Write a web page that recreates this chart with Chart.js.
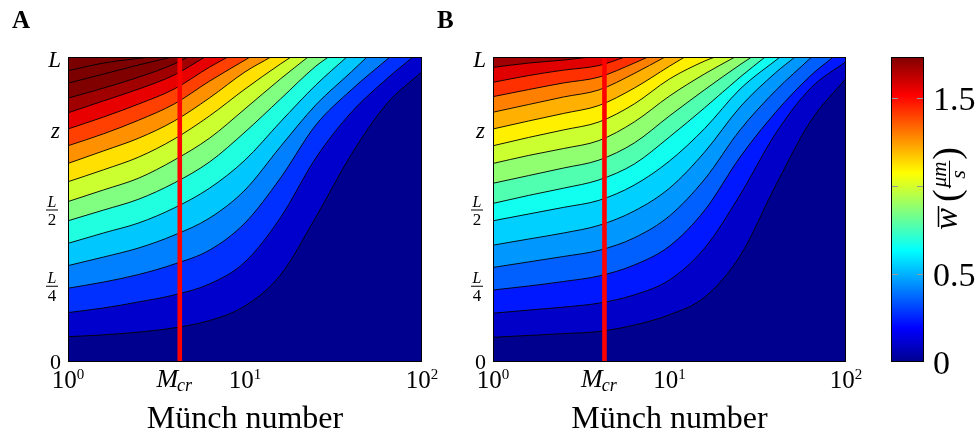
<!DOCTYPE html>
<html><head><meta charset="utf-8">
<script src="https://cdn.jsdelivr.net/npm/chart.js@4.4.1/dist/chart.umd.min.js"></script>
<style>
html,body{margin:0;padding:0;background:#fff;}
#wrap{position:relative;width:979px;height:435px;overflow:hidden;}
canvas{position:absolute;left:0;top:0;}
</style></head><body>
<div id="wrap">
<canvas id="cA" width="979" height="435"></canvas>
<canvas id="cB" width="979" height="435"></canvas>
<canvas id="cC" width="979" height="435"></canvas>
</div>
<script>
// ---------- data ----------
const munchGrid = [1, 1.585, 2.512, 3.981, 6.310, 10, 15.85, 25.12, 39.81, 63.10, 100];
const mCritical = 4.28;
const xTickValues = [1, 10, 100];
const xTickExponents = ['0', '1', '2'];
const zTickValues = [0, 0.25, 0.5, 0.75, 1];
const colorbarMax = 1.734;
const colorbarTicks = [0.5, 1, 1.5];
const colorbarLabelValues = [0, 0.5, 1.5];
const colorbarLabels = ['0', '0.5', '1.5'];

// z/L of each contour line (bottom to top) sampled on munchGrid, until it leaves the plot through the top
const contoursA = [
  [0.083, 0.089, 0.098, 0.112, 0.136, 0.184, 0.285, 0.475, 0.680, 0.846, 0.952],
  [0.162, 0.177, 0.197, 0.220, 0.256, 0.328, 0.473, 0.669, 0.818, 0.928],
  [0.242, 0.262, 0.287, 0.321, 0.367, 0.456, 0.603, 0.777, 0.892],
  [0.316, 0.344, 0.374, 0.416, 0.472, 0.564, 0.706, 0.843, 0.951],
  [0.389, 0.423, 0.456, 0.505, 0.570, 0.662, 0.787, 0.908],
  [0.463, 0.498, 0.534, 0.587, 0.656, 0.754, 0.862, 0.970],
  [0.526, 0.564, 0.603, 0.662, 0.734, 0.830, 0.928],
  [0.591, 0.630, 0.672, 0.731, 0.807, 0.895, 0.977],
  [0.651, 0.692, 0.734, 0.790, 0.866, 0.951],
  [0.709, 0.748, 0.793, 0.846, 0.921],
  [0.764, 0.803, 0.846, 0.895, 0.967],
  [0.817, 0.856, 0.895, 0.941],
  [0.865, 0.898, 0.934, 0.977],
  [0.914, 0.944, 0.974],
  [0.955, 0.980]
];
// Münch number where each contour reaches z = L (null: reaches the right edge)
const exitsA = [null, 88.9, 65.9, 48.9, 37.6, 29.6, 22.7, 18.2, 14.0, 10.7, 8.0, 5.94, 4.76, 3.87, 2.91];

const contoursB = [
  [0.081, 0.087, 0.093, 0.100, 0.121, 0.155, 0.213, 0.348, 0.577, 0.790, 0.930],
  [0.160, 0.170, 0.180, 0.193, 0.220, 0.269, 0.374, 0.548, 0.748, 0.898, 0.985],
  [0.236, 0.249, 0.264, 0.282, 0.318, 0.380, 0.498, 0.672, 0.818, 0.939],
  [0.310, 0.328, 0.346, 0.366, 0.407, 0.479, 0.600, 0.761, 0.889],
  [0.383, 0.403, 0.423, 0.448, 0.495, 0.570, 0.689, 0.836, 0.948],
  [0.463, 0.485, 0.507, 0.530, 0.580, 0.659, 0.766, 0.895],
  [0.520, 0.546, 0.570, 0.597, 0.649, 0.738, 0.834, 0.934],
  [0.586, 0.611, 0.636, 0.662, 0.718, 0.807, 0.893, 0.975],
  [0.651, 0.677, 0.700, 0.726, 0.787, 0.872, 0.945],
  [0.709, 0.736, 0.761, 0.787, 0.846, 0.928, 0.987],
  [0.764, 0.790, 0.815, 0.841, 0.898, 0.970],
  [0.819, 0.844, 0.869, 0.892, 0.946],
  [0.870, 0.893, 0.915, 0.934, 0.980],
  [0.917, 0.939, 0.957, 0.972],
  [0.966, 0.980, 0.990]
];
const exitsB = [null, null, 84.7, 63.9, 51.4, 42.3, 34.8, 29.2, 23.5, 18.1, 12.2, 9.43, 7.55, 5.60, 3.55];

// ---------- styles ----------
const bandColorsA = ['#00008F','#0000CD','#0030FF','#0080FF','#00C8FF','#20FFE0','#80FF80','#CCFF30',
                     '#FFE000','#FF9000','#FF4000','#E80000','#A00000','#800000','#7C0000','#7A0000'];
const bandColorsB = ['#00008F','#0000C8','#0018FF','#0060FF','#0098FF','#00D0FF','#10FFF0','#50FFB0',
                     '#90FF70','#CCFF30','#FFF000','#FFB000','#FF8000','#FF3000','#E00000','#A00000'];
const jetStops = [[0,'#00008F'],[0.111,'#0000FF'],[0.365,'#00FFFF'],[0.619,'#FFFF00'],[0.873,'#FF0000'],[1,'#800000']];
const SERIF = '"Liberation Serif","DejaVu Serif",serif';

function buildDatasets(contours, exits, colors) {
  const ds = contours.map((vals, k) => {
    const pts = vals.map((v, i) => ({x: munchGrid[i], y: v}));
    if (exits[k] !== null) pts.push({x: exits[k], y: 1});
    return {
      data: pts, borderColor: '#000', borderWidth: 0.9, backgroundColor: colors[k + 1],
      fill: 'end', pointRadius: 0, cubicInterpolationMode: 'monotone', order: -k, clip: 0
    };
  });
  ds.push({data: [{x: mCritical, y: 0}, {x: mCritical, y: 1}], borderColor: '#FF0000', borderWidth: 4.6,
           fill: false, pointRadius: 0, order: -100, clip: 0, borderCapStyle: 'butt'});
  return ds;
}

function txt(ctx, s, x, y, font, align) {
  ctx.font = font; ctx.textAlign = align || 'left'; ctx.textBaseline = 'alphabetic'; ctx.fillText(s, x, y);
}

function panelPlugin(letter, colors) {
  return {
    id: 'panel' + letter,
    beforeDatasetsDraw(chart) {
      const a = chart.chartArea, ctx = chart.ctx;
      ctx.save(); ctx.fillStyle = colors[0]; ctx.fillRect(a.left, a.top, a.right - a.left, a.bottom - a.top); ctx.restore();
    },
    afterDatasetsDraw(chart) {
      const a = chart.chartArea, ctx = chart.ctx;
      ctx.save(); ctx.strokeStyle = '#000'; ctx.lineWidth = 1;
      ctx.strokeRect(a.left + 0.5, a.top + 0.5, a.right - a.left - 1, a.bottom - a.top - 1); ctx.restore();
    },
    afterDraw(chart) {
      const a = chart.chartArea, ctx = chart.ctx, xs = chart.scales.x, ys = chart.scales.y;
      ctx.save(); ctx.fillStyle = '#000'; ctx.strokeStyle = '#000';
      // panel letter
      txt(ctx, letter, a.left - 56, 28, 'bold 25px ' + SERIF);
      // y tick labels
      const yr = a.left - 7;
      txt(ctx, '0', yr, ys.getPixelForValue(0) + 7, '22px ' + SERIF, 'right');
      txt(ctx, 'L', yr, ys.getPixelForValue(1) + 10, 'italic 23px ' + SERIF, 'right');
      txt(ctx, 'z', yr - 1, ys.getPixelForValue(0.75) + 5, 'italic 23px ' + SERIF, 'right');
      [[0.5, '2'], [0.25, '4']].forEach(([v, d]) => {
        const y = ys.getPixelForValue(v), cx = a.left - 16;
        txt(ctx, 'L', cx, y - 3, 'italic 16px ' + SERIF, 'center');
        ctx.lineWidth = 1; ctx.beginPath(); ctx.moveTo(cx - 6, y + 0.5); ctx.lineTo(cx + 6, y + 0.5); ctx.stroke();
        txt(ctx, d, cx, y + 15, '17px ' + SERIF, 'center');
      });
      // x tick labels
      xTickValues.forEach((v, i) => {
        const px = xs.getPixelForValue(v);
        ctx.font = '25px ' + SERIF; const w1 = ctx.measureText('10').width;
        ctx.font = '15px ' + SERIF; const w2 = ctx.measureText(xTickExponents[i]).width;
        const x0 = px - (w1 + w2) / 2;
        txt(ctx, '10', x0, 388, '25px ' + SERIF);
        txt(ctx, xTickExponents[i], x0 + w1, 379, '15px ' + SERIF);
      });
      // M_cr label
      {
        const px = xs.getPixelForValue(mCritical);
        ctx.font = 'italic 26px ' + SERIF; const w1 = ctx.measureText('M').width;
        ctx.font = 'italic 18px ' + SERIF; const w2 = ctx.measureText('cr').width;
        const x0 = px - 5 - (w1 + w2) / 2;
        txt(ctx, 'M', x0, 387, 'italic 26px ' + SERIF);
        txt(ctx, 'cr', x0 + w1 - 1, 391, 'italic 18px ' + SERIF);
      }
      // axis title
      txt(ctx, 'Münch number', (a.left + a.right) / 2, 428, '32px ' + SERIF, 'center');
      ctx.restore();
    }
  };
}

function makePanel(id, contours, exits, colors, letter, padLeft, padRight) {
  return new Chart(document.getElementById(id), {
    type: 'line',
    data: {datasets: buildDatasets(contours, exits, colors)},
    options: {
      responsive: false, animation: false, devicePixelRatio: 1, events: [],
      layout: {padding: {left: padLeft, right: padRight, top: 57, bottom: 73}},
      plugins: {legend: {display: false}, tooltip: {enabled: false}},
      scales: {
        x: {type: 'logarithmic', min: 1, max: 100, display: false},
        y: {type: 'linear', min: 0, max: 1, display: false}
      }
    },
    plugins: [panelPlugin(letter, colors)]
  });
}

makePanel('cA', contoursA, exitsA, bandColorsA, 'A', 68, 979 - 422);
makePanel('cB', contoursB, exitsB, bandColorsB, 'B', 493, 979 - 846);

// ---------- colorbar ----------
const colorbarPlugin = {
  id: 'colorbarText',
  afterDraw(chart) {
    const a = chart.chartArea, ctx = chart.ctx, ys = chart.scales.y;
    ctx.save();
    ctx.strokeStyle = '#9a9a9a'; ctx.lineWidth = 1;
    colorbarTicks.forEach(v => {
      const y = Math.round(ys.getPixelForValue(v)) + 0.5;
      ctx.beginPath(); ctx.moveTo(a.left + 1, y); ctx.lineTo(a.left + 7, y);
      ctx.moveTo(a.right - 7, y); ctx.lineTo(a.right - 1, y); ctx.stroke();
    });
    ctx.strokeStyle = '#000';
    ctx.strokeRect(a.left + 0.5, a.top + 0.5, a.right - a.left - 1, a.bottom - a.top - 1);
    ctx.fillStyle = '#000';
    colorbarLabelValues.forEach((v, i) => {
      txt(ctx, colorbarLabels[i], a.right + 9, ys.getPixelForValue(v) + 11.5, '34px ' + SERIF);
    });
    // rotated label: w-bar (um / s)
    ctx.translate(948, 188.5); ctx.rotate(-Math.PI / 2);
    ctx.font = 'italic 33px ' + SERIF; const ww = ctx.measureText('w').width;
    ctx.font = '38px ' + SERIF; const wp = ctx.measureText('(').width;
    ctx.font = 'italic 21px ' + SERIF; const wn = ctx.measureText('μm').width;
    ctx.font = 'italic 22px ' + SERIF; const wd = ctx.measureText('s').width;
    const wf = Math.max(wn, wd) + 2;
    const total = ww + 6 + wp + 1 + wf + 1 + wp;
    let x = -total / 2;
    txt(ctx, 'w', x, 8.5, 'italic 33px ' + SERIF);
    ctx.lineWidth = 1.5; ctx.beginPath(); ctx.moveTo(x + 3, -9.5); ctx.lineTo(x + ww + 2, -9.5); ctx.stroke();
    x += ww + 6;
    txt(ctx, '(', x, 11, '38px ' + SERIF); x += wp + 1;
    txt(ctx, 'μm', x + wf / 2, -2, 'italic 21px ' + SERIF, 'center');
    ctx.lineWidth = 1; ctx.beginPath(); ctx.moveTo(x, 1.5); ctx.lineTo(x + wf, 1.5); ctx.stroke();
    txt(ctx, 's', x + wf / 2, 16.5, 'italic 22px ' + SERIF, 'center');
    x += wf + 1;
    txt(ctx, ')', x, 11, '38px ' + SERIF);
    ctx.restore();
  }
};

new Chart(document.getElementById('cC'), {
  type: 'bar',
  data: {labels: ['w'], datasets: [{
    data: [[0, colorbarMax]], barPercentage: 1, categoryPercentage: 1, borderWidth: 0,
    backgroundColor: (c) => {
      const a = c.chart.chartArea; if (!a) return '#00008F';
      const g = c.chart.ctx.createLinearGradient(0, a.bottom, 0, a.top);
      jetStops.forEach(([t, col]) => g.addColorStop(t, col));
      return g;
    }
  }]},
  options: {
    responsive: false, animation: false, devicePixelRatio: 1, events: [],
    layout: {padding: {left: 891, right: 979 - 924, top: 57, bottom: 73}},
    plugins: {legend: {display: false}, tooltip: {enabled: false}},
    scales: {
      x: {display: false},
      y: {min: 0, max: colorbarMax, display: false}
    }
  },
  plugins: [colorbarPlugin]
});
</script>
</body></html>
